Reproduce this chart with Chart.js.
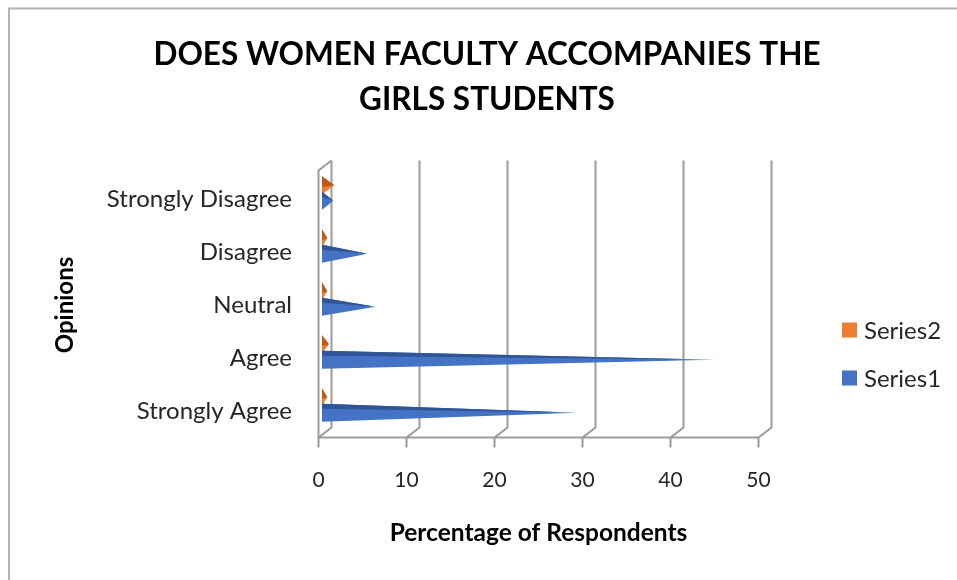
<!DOCTYPE html>
<html>
<head>
<meta charset="utf-8">
<script src="https://cdn.jsdelivr.net/npm/chart.js@4.4.1/dist/chart.umd.min.js"></script>
<style>
  html, body { margin: 0; padding: 0; background: #fff; }
  #wrap { position: relative; width: 957px; height: 580px; }
</style>
</head>
<body>
<div id="wrap"><canvas id="chart" width="957" height="580"></canvas></div>
<script>
const categories = ['Strongly Agree', 'Agree', 'Neutral', 'Disagree', 'Strongly Disagree'];
const series1 = [29.1, 44.7, 6.1, 5.2, 1.3];
const series2 = [0.6, 0.8, 0.6, 0.6, 1.4];
const xTicks = [0, 10, 20, 30, 40, 50];

// fake 3d: back wall offset and where the cones sit in depth
const DEPTH_X = 13;
const DEPTH_Y = -10;
const BAR_DX = 3.5;
const BAR_DY = -6;
const frameColor = '#9b9b9b';
const textColor = '#262626';

Chart.defaults.font.family = 'Lato';

const pageBorder = {
  id: 'pageBorder',
  beforeDraw(chart) {
    const ctx = chart.ctx;
    ctx.save();
    ctx.fillStyle = '#fff';
    ctx.fillRect(0, 0, chart.width, chart.height);
    ctx.strokeStyle = '#b4b4b4';
    ctx.lineWidth = 2;
    ctx.beginPath();
    ctx.moveTo(9, chart.height + 2);
    ctx.lineTo(9, 8.5);
    ctx.lineTo(chart.width + 2, 8.5);
    ctx.stroke();
    ctx.restore();
  }
};

const frame3d = {
  id: 'frame3d',
  beforeDatasetsDraw(chart) {
    const ctx = chart.ctx;
    const xs = chart.scales.x;
    const { top, bottom, left } = chart.chartArea;
    ctx.save();
    ctx.strokeStyle = frameColor;
    ctx.lineWidth = 2;
    ctx.beginPath();
    // left wall front edge + top
    ctx.moveTo(left, bottom);
    ctx.lineTo(left, top - 2);
    ctx.lineTo(left + DEPTH_X, top - 2 + DEPTH_Y);
    // floor front edge
    ctx.moveTo(left, bottom);
    ctx.lineTo(xs.getPixelForValue(xTicks[xTicks.length - 1]), bottom);
    xTicks.forEach((v) => {
      const px = xs.getPixelForValue(v);
      ctx.moveTo(px, bottom + 10);
      ctx.lineTo(px, bottom);
      ctx.lineTo(px + DEPTH_X, bottom + DEPTH_Y);
      ctx.lineTo(px + DEPTH_X, top - 2 + DEPTH_Y);
    });
    ctx.stroke();
    ctx.restore();
  }
};

function drawCone(ctx, x0, xt, yc, h, ds) {
  const top = yc - h / 2;
  const bot = yc + h / 2;
  const grad = ctx.createLinearGradient(x0, 0, Math.max(xt, x0 + 1), 0);
  grad.addColorStop(0, ds.coneColor);
  grad.addColorStop(0.88, ds.coneColor);
  grad.addColorStop(1, ds.coneLight);
  ctx.fillStyle = grad;
  ctx.beginPath();
  ctx.moveTo(x0, top);
  ctx.lineTo(xt, yc);
  ctx.lineTo(x0, bot);
  ctx.closePath();
  ctx.fill();
  ctx.fillStyle = ds.coneShade;
  ctx.beginPath();
  ctx.moveTo(x0, top);
  ctx.lineTo(xt, yc);
  ctx.lineTo(x0, top + h * ds.shadeFrac);
  ctx.closePath();
  ctx.fill();
}

const cones = {
  id: 'cones',
  afterDatasetsDraw(chart) {
    const ctx = chart.ctx;
    ctx.save();
    chart.data.datasets.forEach((ds, i) => {
      const meta = chart.getDatasetMeta(i);
      meta.data.forEach((el) => {
        const p = el.getProps(['x', 'y', 'base', 'height'], true);
        drawCone(ctx, p.base + BAR_DX, p.x + BAR_DX, p.y + BAR_DY, p.height, ds);
      });
    });
    ctx.restore();
  }
};

const sideLegend = {
  id: 'sideLegend',
  afterDraw(chart) {
    const ctx = chart.ctx;
    const x = chart.chartArea.right + 83.5;
    let y = 330;
    ctx.save();
    ctx.font = '24px Lato';
    ctx.textBaseline = 'middle';
    chart.data.datasets.forEach((ds) => {
      ctx.fillStyle = ds.coneColor;
      ctx.fillRect(x, y - 7.5, 15, 15);
      ctx.fillStyle = textColor;
      ctx.fillText(ds.label, x + 22, y + 1);
      y += 48;
    });
    ctx.restore();
  }
};

new Chart(document.getElementById('chart'), {
  type: 'bar',
  data: {
    labels: categories,
    datasets: [
      {
        label: 'Series2',
        data: series2,
        backgroundColor: 'rgba(0,0,0,0)',
        borderWidth: 0,
        coneColor: '#ED7D31',
        coneShade: '#C0581A',
        coneLight: '#F4B183',
        shadeFrac: 0.6,
      },
      {
        label: 'Series1',
        data: series1,
        backgroundColor: 'rgba(0,0,0,0)',
        borderWidth: 0,
        coneColor: '#4472C4',
        coneShade: '#2F5597',
        coneLight: '#B4C7E7',
        shadeFrac: 0.28,
      }
    ]
  },
  options: {
    indexAxis: 'y',
    responsive: false,
    animation: false,
    devicePixelRatio: 1,
    barPercentage: 1.16,
    categoryPercentage: 0.585,
    layout: { padding: { left: 17, right: 0, top: 0, bottom: 20 } },
    plugins: {
      legend: { display: false },
      tooltip: { enabled: false },
      title: {
        display: true,
        text: ['DOES WOMEN FACULTY ACCOMPANIES THE', 'GIRLS STUDENTS'],
        color: '#000',
        font: { size: 31.5, weight: 'bold', lineHeight: 45 / 31.5 },
        padding: { top: 32.5, bottom: 50 }
      }
    },
    scales: {
      x: {
        min: 0,
        max: 50,
        afterFit: (s) => { s.height = 122.5; },
        afterBuildTicks: (s) => { s.ticks = xTicks.map((v) => ({ value: v })); },
        grid: { display: false, drawTicks: false },
        border: { display: false },
        ticks: { padding: 29.9, color: textColor, font: { size: 21 } },
        title: {
          display: true,
          text: 'Percentage of Respondents',
          color: '#000',
          font: { size: 24.5, weight: 'bold' },
          padding: { top: 0, bottom: 12.3 }
        }
      },
      y: {
        reverse: true,
        afterFit: (s) => { s.width = 301.5; },
        grid: { display: false, drawTicks: false },
        border: { display: false },
        ticks: { padding: 26.5, color: textColor, font: { size: 24 } },
        title: {
          display: true,
          text: 'Opinions',
          color: '#000',
          font: { size: 24, weight: 'bold' },
          padding: { top: 33.6, bottom: 0 }
        }
      },
      // empty right-hand strip that holds the legend
      yLegend: {
        axis: 'y',
        type: 'category',
        position: 'right',
        afterFit: (s) => { s.width = 198.5; },
        grid: { display: false, drawTicks: false },
        border: { display: false },
        ticks: { display: false }
      }
    }
  },
  plugins: [pageBorder, frame3d, cones, sideLegend]
});
</script>
</body>
</html>
